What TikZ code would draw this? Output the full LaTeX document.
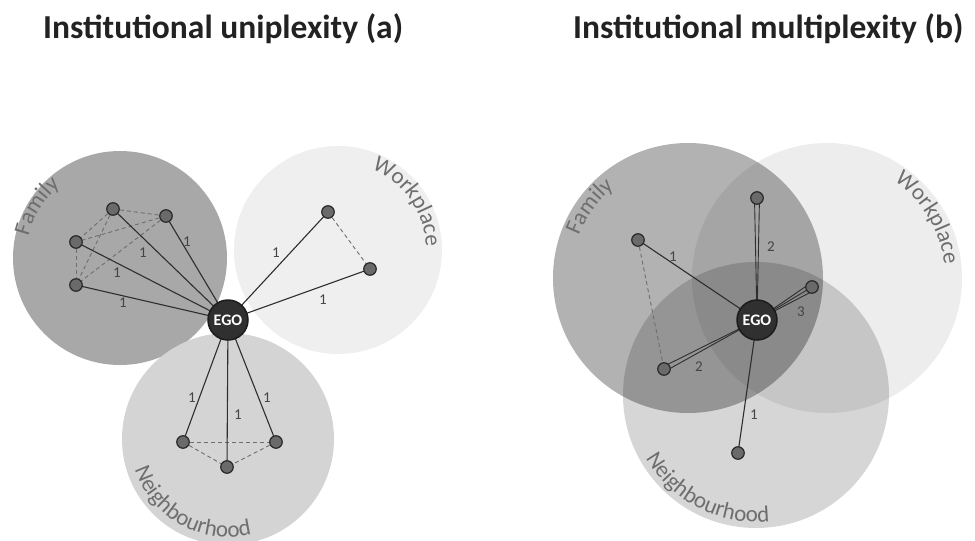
\documentclass[tikz,border=0pt]{standalone}
\usepackage{fontspec}
\setmainfont{Carlito}
\usetikzlibrary{calc,decorations.text}
\definecolor{famA}{HTML}{A8A8A8}
\definecolor{workA}{HTML}{EFEFEF}
\definecolor{neighA}{HTML}{D4D4D4}
\definecolor{egofill}{HTML}{303030}
\definecolor{egoline}{HTML}{1C1C1C}
\definecolor{altfill}{HTML}{6A6A6A}
\definecolor{altline}{HTML}{2A2A2A}
\definecolor{tiecol}{HTML}{2E2E2E}
\definecolor{dashcol}{HTML}{6E6E6E}
\definecolor{numcol}{HTML}{444444}
\definecolor{ringcol}{HTML}{6E6E6E}
\definecolor{titlecol}{HTML}{222222}
\newcommand{\rlabfont}{\fontsize{23}{23}\selectfont}
\tikzset{
  alter/.style={circle, fill=altfill, draw=altline, line width=1.2pt, minimum size=12.5pt, inner sep=0pt},
  egonode/.style={circle, fill=egofill, draw=egoline, line width=1.5pt, minimum size=40pt, inner sep=0pt, text=white, font=\bfseries\fontsize{16}{16}\selectfont},
  tie/.style={draw=tiecol, line width=1.1pt},
  thintie/.style={draw=tiecol, line width=0.9pt},
  weak/.style={draw=dashcol, line width=0.9pt, dash pattern=on 4pt off 3pt},
  num/.style={font=\fontsize{15}{15}\selectfont, text=numcol, inner sep=0pt},
  titletext/.style={font=\bfseries\fontsize{33.5}{34}\selectfont, text=titlecol, inner sep=0pt, anchor=base west},
  ringtext/.style={decorate, decoration={text along path, text align=center, text color=ringcol, text={|\rlabfont|#1}}}
}
\begin{document}
\begin{tikzpicture}[x=1pt,y=1pt]
\useasboundingbox (0,0) rectangle (975,-541);
\fill[white] (0,0) rectangle (975,-541);

% titles
\node[titletext] (t1) at (43,-38) {Institutional uniplexity (a)};
\node[titletext] (t2) at (573,-38) {Institutional multiplexity (b)};

% ---------- panel (a) ----------
\coordinate (F1c) at (120,-258);
\coordinate (W1c) at (338,-250);
\coordinate (N1c) at (228,-439);
\fill[famA] (F1c) circle[radius=107];
\fill[workA] (W1c) circle[radius=104];
\fill[neighA] (N1c) circle[radius=106];
\path[ringtext=Family] ([shift={(195:94)}]F1c) arc[start angle=195, end angle=101, radius=94];
\path[ringtext=Workplace] ([shift={(85:88)}]W1c) arc[start angle=85, end angle=-15, radius=88];
\path[ringtext=Neighbourhood] ([shift={(186:98)}]N1c) arc[start angle=186, end angle=296, radius=98];

\coordinate (E1) at (228,-320);
\coordinate (fa) at (113,-209);
\coordinate (fb) at (166,-216);
\coordinate (fc) at (76,-242);
\coordinate (fd) at (76,-285);
\coordinate (wa) at (328,-212);
\coordinate (wb) at (370,-269);
\coordinate (na) at (183,-442);
\coordinate (nb) at (276,-442);
\coordinate (nc) at (227,-467);

\foreach \a/\b in {fa/fb,fa/fc,fa/fd,fb/fc,fb/fd,fc/fd,wa/wb,na/nb,na/nc,nb/nc}
  \draw[weak] (\a) -- (\b);
\foreach \a in {fa,fb,fc,fd,wa,wb,na,nb,nc}
  \draw[tie] (E1) -- (\a);

\node[egonode] (E1) at (E1) {EGO};
\foreach \a in {fa,fb,fc,fd,wa,wb,na,nb,nc}
  \node[alter] (\a) at (\a) {};

\node[num] (l1) at (187,-242) {1};
\node[num] (l2) at (143,-253) {1};
\node[num] (l3) at (117,-273) {1};
\node[num] (l4) at (123,-303) {1};
\node[num] (l5) at (276,-253) {1};
\node[num] (l6) at (323,-300) {1};
\node[num] (l7) at (192,-398) {1};
\node[num] (l8) at (238,-415) {1};
\node[num] (l9) at (267,-398) {1};

% ---------- panel (b) ----------
\coordinate (F2c) at (688,-278);
\coordinate (W2c) at (827,-278);
\coordinate (N2c) at (756,-395);
\fill[black, opacity=0.30] (F2c) circle[radius=135];
\fill[black, opacity=0.07] (W2c) circle[radius=135];
\fill[black, opacity=0.16] (N2c) circle[radius=133];
\path[ringtext=Family] ([shift={(190:117)}]F2c) arc[start angle=190, end angle=98, radius=117];
\path[ringtext=Workplace] ([shift={(80:118)}]W2c) arc[start angle=80, end angle=-18, radius=118];
\path[ringtext=Neighbourhood] ([shift={(197:127)}]N2c) arc[start angle=197, end angle=289, radius=127];

\coordinate (E2) at (757,-320);
\coordinate (ra) at (757,-198);
\coordinate (rb) at (812,-287);
\coordinate (rc) at (638,-240);
\coordinate (rd) at (664,-369);
\coordinate (re) at (738,-453);

\draw[weak] (rc) -- (rd);
\draw[tie] (E2) -- (rc);
\draw[tie] (E2) -- (re);
\foreach \o in {-2.5,2.5} {
  \draw[thintie] (E2) -- ($(ra)!\o pt!90:(E2)$);
  \draw[thintie] (E2) -- ($(rd)!\o pt!90:(E2)$);
}
\foreach \o in {-4,0,4}
  \draw[thintie] (E2) -- ($(rb)!\o pt!90:(E2)$);

\node[egonode] (E2) at (E2) {EGO};
\foreach \a in {ra,rb,rc,rd,re}
  \node[alter] (\a) at (\a) {};

\node[num] (m1) at (771,-247) {2};
\node[num] (m2) at (801,-312) {3};
\node[num] (m3) at (673,-257) {1};
\node[num] (m4) at (699,-367) {2};
\node[num] (m5) at (754,-415) {1};
\end{tikzpicture}
\end{document}
